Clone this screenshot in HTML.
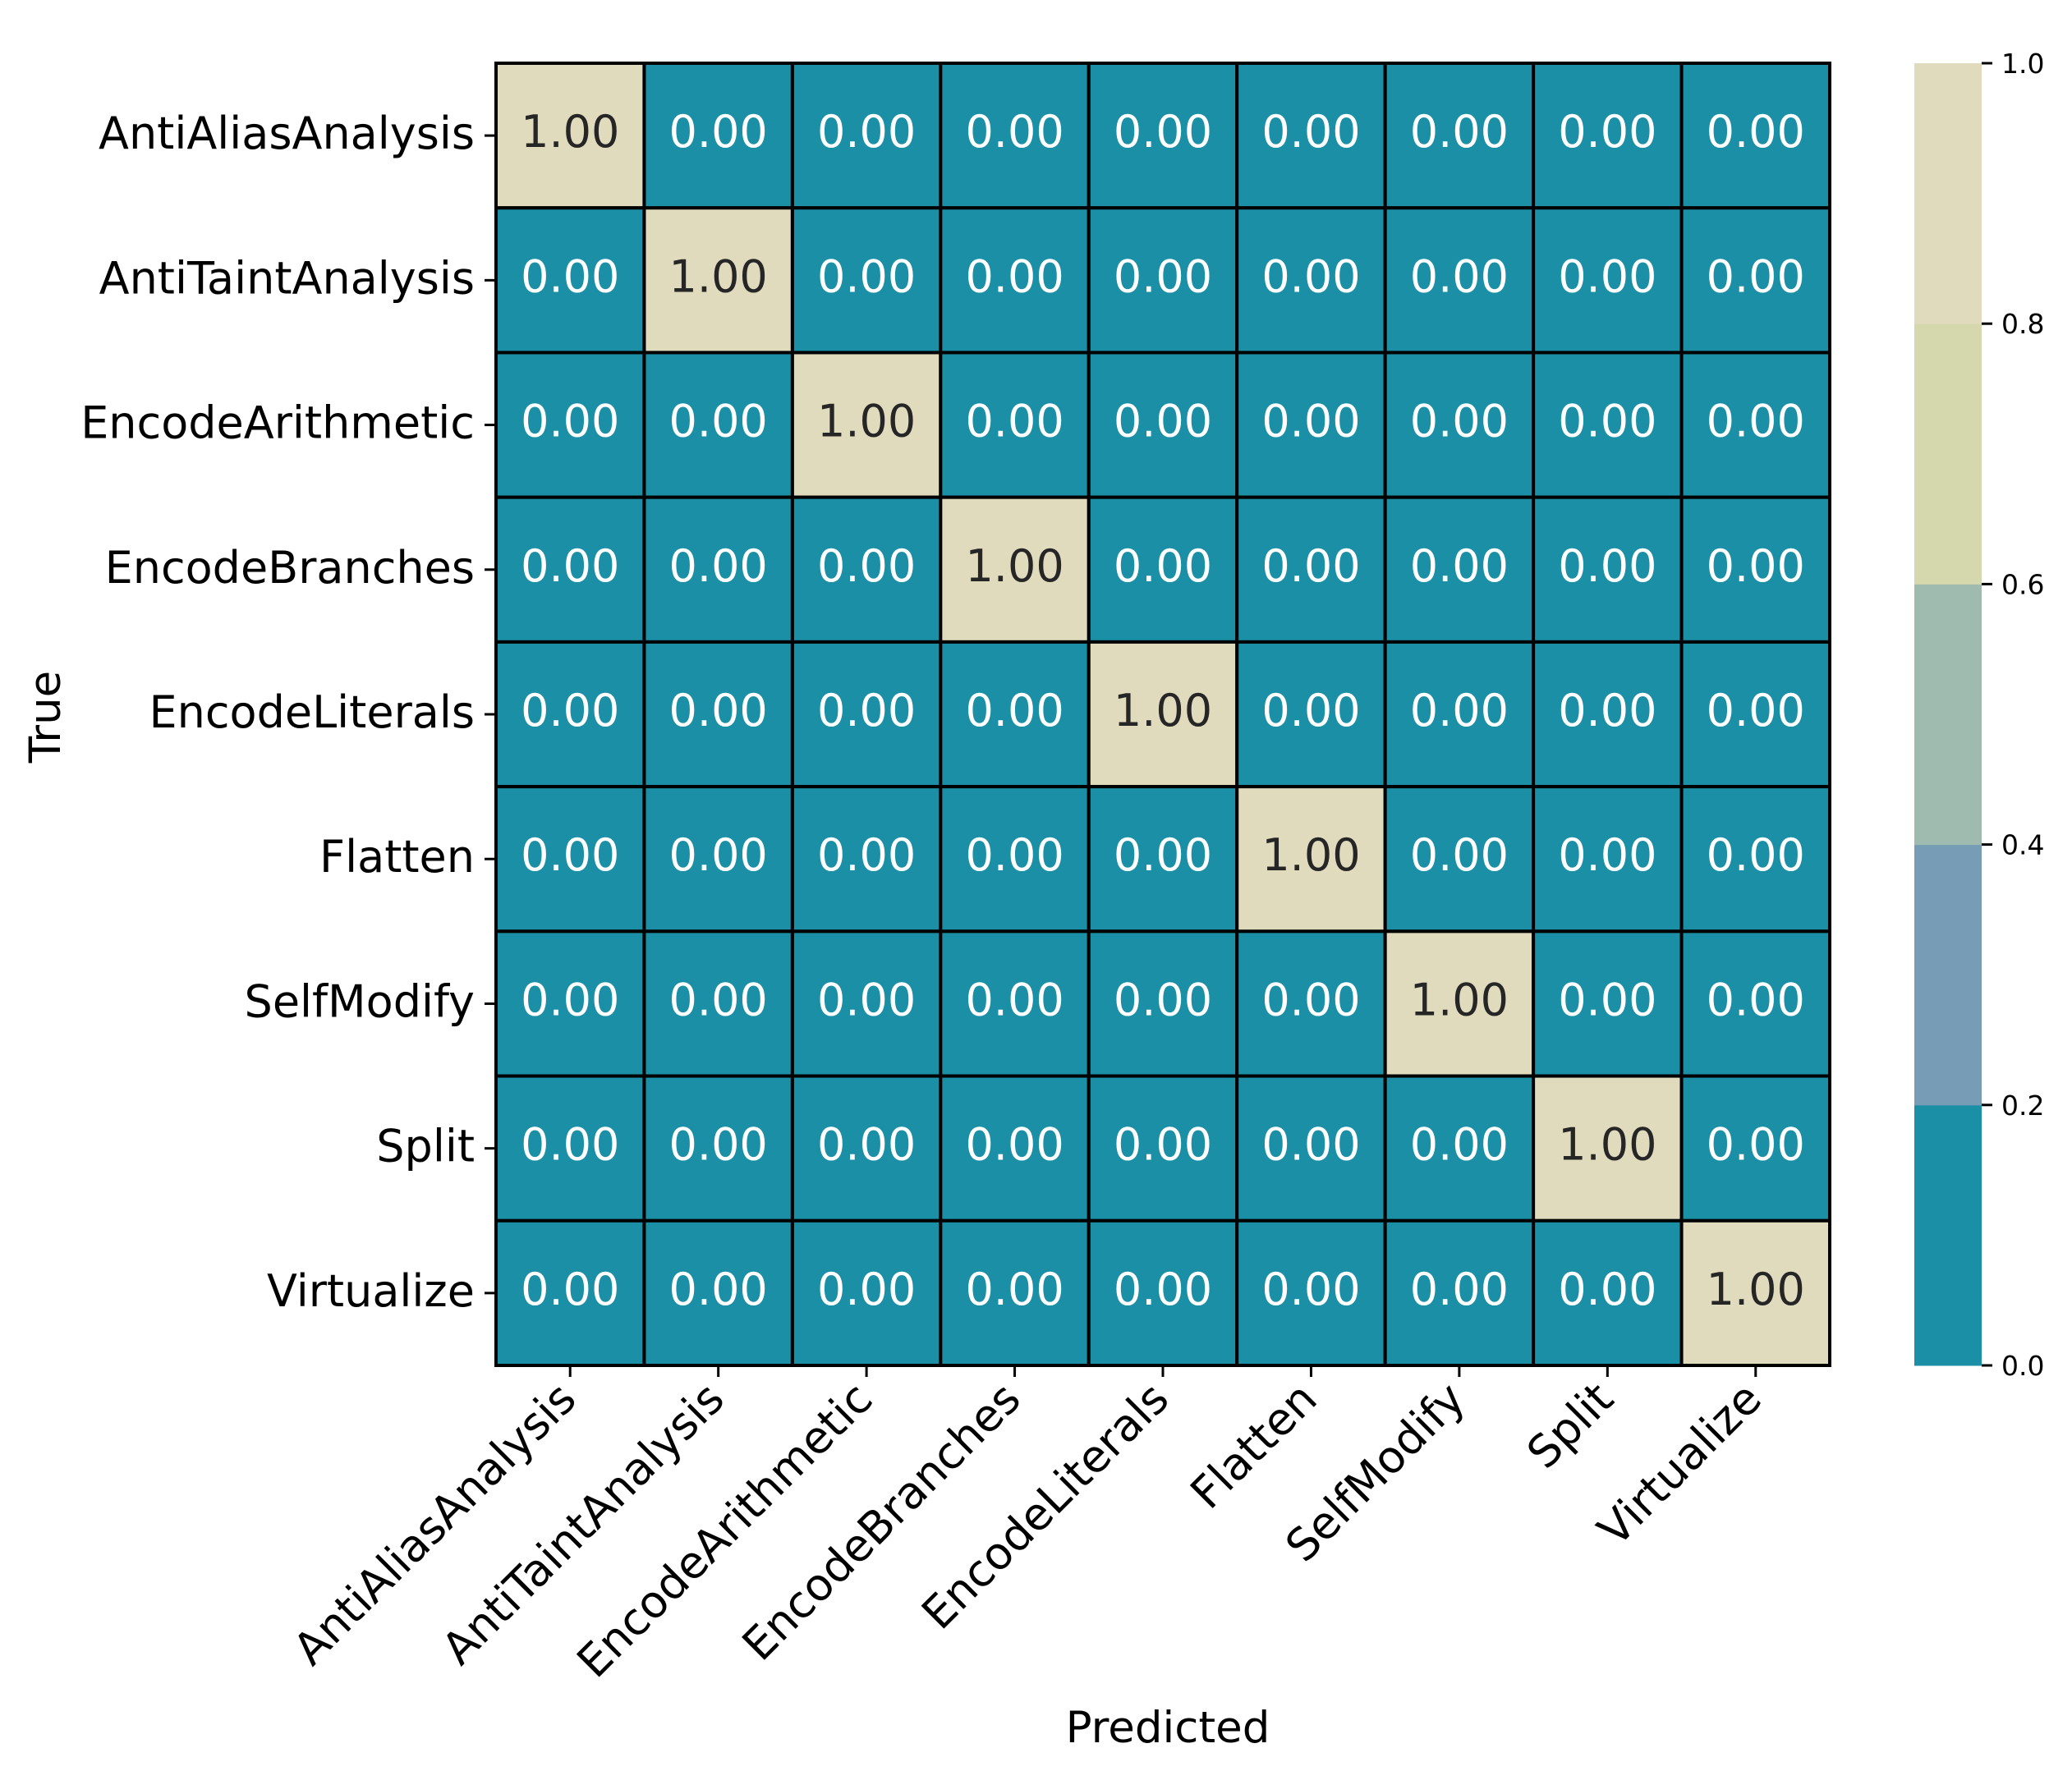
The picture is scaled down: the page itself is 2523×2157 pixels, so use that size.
<!DOCTYPE html>
<html><head><meta charset="utf-8"><style>
html,body{margin:0;padding:0;background:#fff;}
svg text{font-family:"DejaVu Sans","Liberation Sans",sans-serif;}
</style></head><body>
<svg id="chart" width="2523" height="2152" viewBox="0 0 2523 2152" xmlns="http://www.w3.org/2000/svg">
<g id="cells"></g>
<g id="ylabels"></g>
<g id="xlabels"></g>
<g id="cbar"></g>
<text x="1422" y="2122" font-size="53" text-anchor="middle">Predicted</text>
<text x="0" y="0" font-size="53" text-anchor="middle" transform="translate(73,873) rotate(-90)">True</text>
</svg>
<script>
const categories = ["AntiAliasAnalysis","AntiTaintAnalysis","EncodeArithmetic","EncodeBranches","EncodeLiterals","Flatten","SelfModify","Split","Virtualize"];
const matrix = [
[1,0,0,0,0,0,0,0,0],
[0,1,0,0,0,0,0,0,0],
[0,0,1,0,0,0,0,0,0],
[0,0,0,1,0,0,0,0,0],
[0,0,0,0,1,0,0,0,0],
[0,0,0,0,0,1,0,0,0],
[0,0,0,0,0,0,1,0,0],
[0,0,0,0,0,0,0,1,0],
[0,0,0,0,0,0,0,0,1]
];
const cbarTicks = ["0.0","0.2","0.4","0.6","0.8","1.0"];
const binColors = ["#1a8fa6","#769db5","#9fbbb0","#d5d7ac","#e1dbbd"];

const NS="http://www.w3.org/2000/svg";
const L=604,T=77,R=2228,B=1663;
const n=categories.length;
const cw=(R-L)/n, ch=(B-T)/n;
function xS(i){return L+i*cw;}
function yS(i){return T+i*ch;}
function colorFor(v){let k=Math.min(binColors.length-1,Math.floor(v*binColors.length));return binColors[k];}
function mk(tag,attrs,parent){const e=document.createElementNS(NS,tag);for(const k in attrs)e.setAttribute(k,attrs[k]);parent.appendChild(e);return e;}

const cells=document.getElementById('cells');
for(let r=0;r<n;r++){for(let c=0;c<n;c++){
  const v=matrix[r][c];
  const rect=mk('rect',{x:xS(c),y:yS(r),width:cw,height:ch,fill:colorFor(v),stroke:'#000','stroke-width':4},cells);
  
  
  const t=mk('text',{x:xS(c)+cw/2,y:yS(r)+ch/2+14,'font-size':54,'text-anchor':'middle',fill:v>0.5?'#262626':'#ffffff'},cells);
  t.textContent=v.toFixed(2);
  
  
}}
const yl=document.getElementById('ylabels');
const xl=document.getElementById('xlabels');
categories.forEach((name,i)=>{
  const cy=yS(i)+ch/2;
  mk('line',{x1:L-14,x2:L,y1:cy,y2:cy,stroke:'#000','stroke-width':3},yl);
  const t=mk('text',{x:L-26,y:cy+16,'font-size':54,'text-anchor':'end'},yl);
  t.textContent=name;
  
  
  const cx=xS(i)+cw/2;
  mk('line',{x1:cx,x2:cx,y1:B,y2:B+14,stroke:'#000','stroke-width':3},xl);
  const tx=mk('text',{x:0,y:0,'font-size':54,'text-anchor':'end',transform:`translate(${cx+10},${B+44}) rotate(-45)`},xl);
  tx.textContent=name;
  
  
});
const cb=document.getElementById('cbar');
const CL=2331,CR=2413,CT=77,CB=1663;
function cy(v){return CB-(CB-CT)*v;}
binColors.forEach((col,k)=>{
  const seg=mk('rect',{x:CL,y:cy((k+1)/binColors.length),width:CR-CL,height:cy(k/binColors.length)-cy((k+1)/binColors.length)+0.5,fill:col},cb);
  
  
});
cbarTicks.forEach(s=>{
  const v=parseFloat(s),y=cy(v);
  mk('line',{x1:CR,x2:CR+13,y1:y,y2:y,stroke:'#000','stroke-width':3},cb);
  const t=mk('text',{x:CR+24,y:y+12,'font-size':33},cb);
  t.textContent=s;
  
  
});
</script>
</body></html>
